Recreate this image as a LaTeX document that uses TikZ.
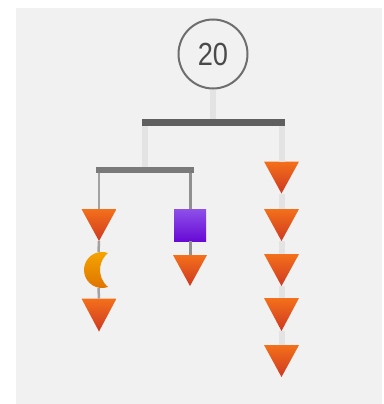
\documentclass[tikz,border=0pt]{standalone}
\usepackage{fontspec}
\setsansfont{Liberation Sans}
\newfontfamily\numfont[FakeStretch=0.85]{Liberation Sans}
\definecolor{bgc}{HTML}{F1F1F1}
\definecolor{triTop}{HTML}{F4701A}
\definecolor{triBot}{HTML}{CE3822}
\definecolor{sqTop}{HTML}{8E50E8}
\definecolor{sqBot}{HTML}{680AD6}
\definecolor{moonTop}{HTML}{F6A600}
\definecolor{moonBot}{HTML}{DF7400}
\definecolor{stemc}{HTML}{E3E3E3}
\definecolor{barc}{HTML}{5F5F5F}
\definecolor{bartwo}{HTML}{7A7A7A}
\definecolor{cordl}{HTML}{A2A2A2}
\definecolor{cordm}{HTML}{909090}
\definecolor{ringc}{HTML}{6E6E6E}
\definecolor{numc}{HTML}{4A4A4A}
\begin{document}
\begin{tikzpicture}[x=1pt,y=1pt,
  tri/.style={minimum width=35pt, minimum height=32pt, inner sep=0pt, outer sep=0pt,
    path picture={\shade[top color=triTop, bottom color=triBot]
      (path picture bounding box.north west) -- (path picture bounding box.north east)
      -- (path picture bounding box.south) -- cycle;}},
  sq/.style={minimum size=32pt, inner sep=0pt, outer sep=0pt, top color=sqTop, bottom color=sqBot},
  moon/.style={minimum size=36pt, inner sep=0pt, outer sep=0pt,
    path picture={\begin{scope}[shift={(path picture bounding box.center)}]
      \shade[top color=moonTop, bottom color=moonBot]
        (9.5,17) arc[start angle=70.56, end angle=289.44, radius=18]
        arc[start angle=230.5, end angle=129.5, radius=22] -- cycle;
    \end{scope}}},
  bar/.style={fill=barc, inner sep=0pt, outer sep=0pt, minimum height=7pt},
  stem/.style={draw=stemc, line width=6pt},
  cord/.style={line width=2.5pt}
]
\useasboundingbox (0,0) rectangle (383,-404);
\fill[bgc] (16,-8) rectangle (382,-404);

\node[circle, draw=ringc, line width=2pt, minimum size=69pt, inner sep=0pt, text=numc,
  font=\numfont\fontsize{32}{32}\selectfont] (top) at (213,-54) {20};
\node[bar, minimum width=143pt] (bar1) at (213.5,-122.5) {};
\node[bar, fill=bartwo, minimum width=98pt, minimum height=6pt] (bar2) at (145,-169.5) {};

\node[tri] (L1) at (99,-225) {};
\node[moon] (M) at (98.5,-270) {};
\node[tri, minimum height=33pt] (L2) at (99,-315) {};

\node[sq] (S) at (190,-225) {};
\node[tri, minimum width=34pt, minimum height=31pt] (T) at (190,-270.5) {};

\node[tri] (R1) at (281.5,-177.5) {};
\node[tri] (R2) at (281.5,-225) {};
\node[tri] (R3) at (281.5,-270) {};
\node[tri, minimum height=33pt] (R4) at (281.5,-314.5) {};
\node[tri] (R5) at (281.5,-361) {};

\draw[stem] (top.south) -- (top.south |- bar1.north);
\draw[stem] (bar2.north |- bar1.south) -- (bar2.north);
\draw[stem] (R1.north |- bar1.south) -- (R1.north);
\draw[stem] (R1.south) -- (R2.north);
\draw[stem] (R2.south) -- (R3.north);
\draw[stem] (R3.south) -- (R4.north);
\draw[stem] (R4.south) -- (R5.north);
\draw[cord, draw=cordl] (L1.north |- bar2.south) -- (L1.north);
\draw[cord, draw=cordl] (L1.south) -- (M.north);
\draw[cord, draw=cordl] (M.south) -- (L2.north);
\draw[cord, draw=cordm, line width=3pt] (S.north |- bar2.south) -- (S.north);
\draw[cord, draw=cordm, line width=3pt] (S.south) -- (T.north);
\end{tikzpicture}
\end{document}
